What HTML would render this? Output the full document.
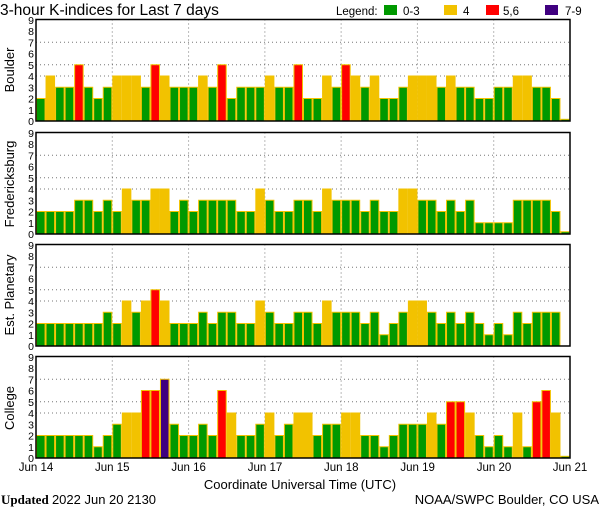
<!DOCTYPE html>
<html><head><meta charset="utf-8"><style>
html,body{margin:0;padding:0;background:#fff;}
svg{display:block;font-family:"Liberation Sans",sans-serif;}
</style></head><body>
<svg id="s" width="600" height="510" viewBox="0 0 600 510" xmlns="http://www.w3.org/2000/svg">
<rect width="600" height="510" fill="#fff"/>
<text x="0" y="15" font-size="15.5" fill="#000">3-hour K-indices for Last 7 days</text>
<text x="336" y="15" font-size="11.5">Legend:</text>
<rect x="384" y="5" width="13" height="10" fill="#009900"/>
<text x="403" y="15" font-size="11.5">0-3</text>
<rect x="444" y="5" width="13" height="10" fill="#F2C200"/>
<text x="463" y="15" font-size="11.5">4</text>
<rect x="486" y="5" width="13" height="10" fill="#FF0000"/>
<text x="503" y="15" font-size="11.5">5,6</text>
<rect x="545" y="5" width="13" height="10" fill="#400080"/>
<text x="565" y="15" font-size="11.5">7-9</text>
<g id="bars"></g>
<g font-size="13" text-anchor="middle">
<text transform="translate(14,70) rotate(-90)">Boulder</text>
<text transform="translate(14,184) rotate(-90)">Fredericksburg</text>
<text transform="translate(14,295) rotate(-90)">Est. Planetary</text>
<text transform="translate(14,408) rotate(-90)">College</text>
</g>
<g font-size="11.5" text-anchor="middle">
<text x="36" y="471">Jun 14</text>
<text x="112.3" y="471">Jun 15</text>
<text x="188.6" y="471">Jun 16</text>
<text x="265" y="471">Jun 17</text>
<text x="341.3" y="471">Jun 18</text>
<text x="417.6" y="471">Jun 19</text>
<text x="494" y="471">Jun 20</text>
<text x="570" y="471">Jun 21</text>
</g>
<text x="300" y="489" font-size="13" text-anchor="middle">Coordinate Universal Time (UTC)</text>
<text x="1" y="504" font-size="13" font-family="Liberation Serif,serif"><tspan font-weight="bold">Updated</tspan> <tspan font-family="Liberation Sans,sans-serif">2022 Jun 20 2130</tspan></text>
<text x="599" y="504" font-size="13" text-anchor="end">NOAA/SWPC Boulder, CO USA</text>
</svg>
<script>
var data=[
[2,4,3,3,5,3,2,3, 4,4,4,3,5,4,3,3, 3,4,3,5,2,3,3,3, 4,3,3,5,2,2,4,3, 5,4,3,4,2,2,3,4, 4,4,3,4,3,3,2,2, 3,3,4,4,3,3,2,0.15],
[2,2,2,2,3,3,2,3, 2,4,3,3,4,4,2,3, 2,3,3,3,3,2,2,4, 3,2,2,3,3,2,4,3, 3,3,2,3,2,2,4,4, 3,3,2,3,2,3,1,1, 1,1,3,3,3,3,2,0.2],
[2,2,2,2,2,2,2,3, 2,4,3,4,5,4,2,2, 2,3,2,3,3,2,2,4, 3,2,2,3,3,2,4,3, 3,3,2,3,1,2,3,4, 4,3,2,3,2,3,2,1, 2,1,3,2,3,3,3,0],
[2,2,2,2,2,2,1,2, 3,4,4,6,6,7,3,2, 2,3,2,6,4,2,2,3, 4,2,3,4,4,2,3,3, 4,4,2,2,1,2,3,3, 3,4,3,5,5,4,2,1, 2,1,4,1,5,6,4,0.15]];
var tops=[19.5,132.5,244.5,356.5],H=101.5,L=36,R=570,W=(R-L)/56,U=11.25;
var ns="http://www.w3.org/2000/svg",g=document.getElementById('bars'),h='';
function col(v){return v>=7?'#400080':v>=5?'#FF0000':v>=4?'#F2C200':'#009900';}
for(var p=0;p<4;p++){
 var t=tops[p],b=t+H;
 // grid
 [4,5,7].forEach(function(k){var y=b-k*U;h+='<line x1="'+L+'" x2="'+R+'" y1="'+y+'" y2="'+y+'" stroke="#777" stroke-width="1" stroke-dasharray="1,3"/>';});
 for(var d=1;d<7;d++){var x=L+d*8*W;h+='<line x1="'+x+'" x2="'+x+'" y1="'+t+'" y2="'+b+'" stroke="#777" stroke-width="1" stroke-dasharray="1,3"/>';}
 for(var i=0;i<56;i++){var v=data[p][i];if(v<=0)continue;var x=L+i*W;
  h+='<rect x="'+(x+0.5)+'" y="'+(b-v*U)+'" width="'+(W-1)+'" height="'+(v*U)+'" fill="'+col(v)+'" stroke="#F2C200" stroke-width="1"/>';}
 h+='<rect x="'+L+'" y="'+t+'" width="'+(R-L)+'" height="'+H+'" fill="none" stroke="#000" stroke-width="1.5"/>';
 for(var k=0;k<=9;k++){h+='<text x="31" y="'+(b-k*U+4)+'" font-size="10.5" text-anchor="middle">'+k+'</text>';}
}
g.innerHTML=h;
</script>
</body></html>
